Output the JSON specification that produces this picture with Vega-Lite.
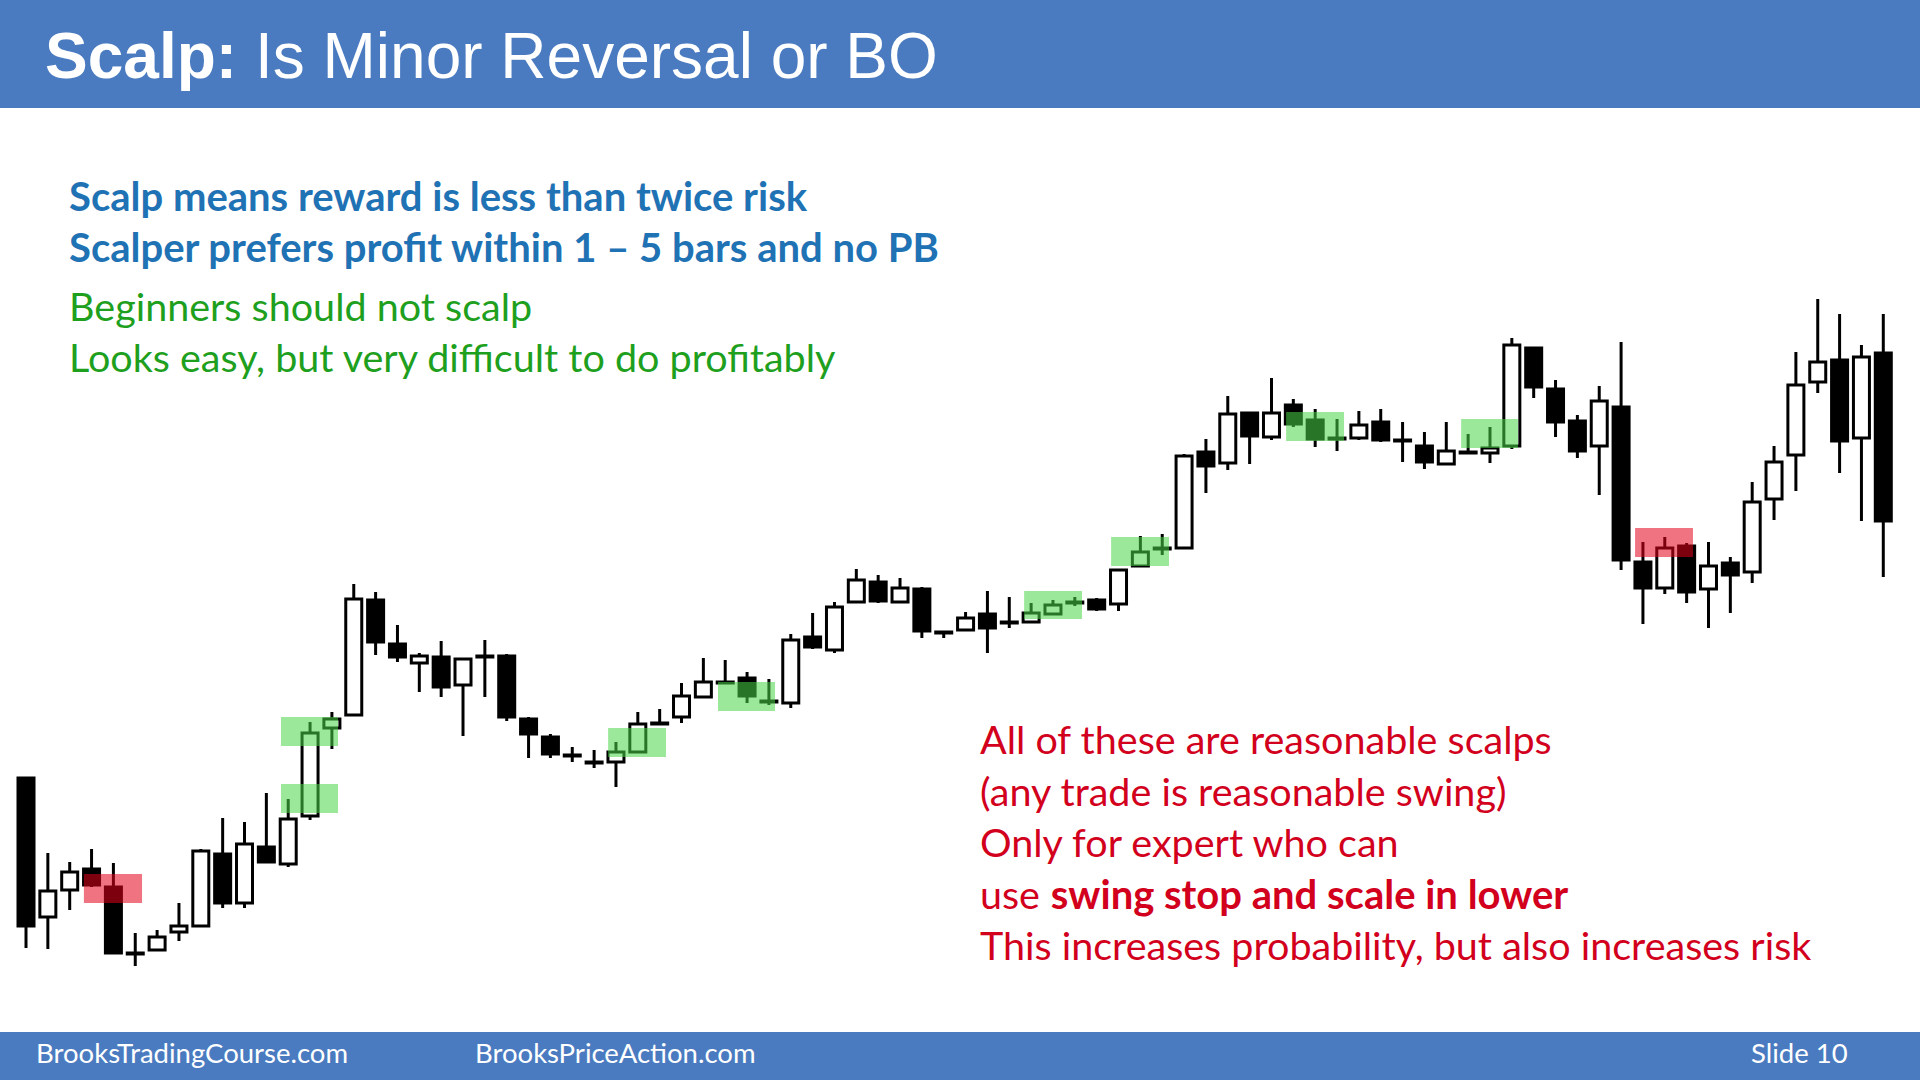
{
  "$schema": "https://vega.github.io/schema/vega-lite/v6.json",
  "width": 1920,
  "height": 1080,
  "autosize": {"type": "fit", "contains": "padding"},
  "padding": 0,
  "background": "white",
  "config": {"view": {"stroke": null}, "scale": {"continuousPadding": 0}},
  "datasets": {
    "bars": [
      {"i":0,"o":222,"h":222,"l":52,"c":74},
      {"i":1,"o":83,"h":147,"l":51,"c":109},
      {"i":2,"o":110,"h":138,"l":90,"c":128},
      {"i":3,"o":131,"h":151,"l":113,"c":115},
      {"i":4,"o":113,"h":137,"l":47,"c":47},
      {"i":5,"o":47,"h":67,"l":34,"c":46},
      {"i":6,"o":50,"h":70,"l":50,"c":63},
      {"i":7,"o":68,"h":97,"l":59,"c":74},
      {"i":8,"o":74,"h":151,"l":74,"c":149},
      {"i":9,"o":146,"h":182,"l":92,"c":97},
      {"i":10,"o":97,"h":178,"l":92,"c":156},
      {"i":11,"o":153,"h":207,"l":138,"c":138},
      {"i":12,"o":136,"h":201,"l":133,"c":181},
      {"i":13,"o":184,"h":278,"l":180,"c":267},
      {"i":14,"o":272,"h":288,"l":251,"c":281},
      {"i":15,"o":285,"h":416,"l":285,"c":401},
      {"i":16,"o":400,"h":408,"l":345,"c":358},
      {"i":17,"o":356,"h":375,"l":338,"c":343},
      {"i":18,"o":337,"h":347,"l":308,"c":344},
      {"i":19,"o":343,"h":359,"l":303,"c":313},
      {"i":20,"o":315,"h":342,"l":264,"c":341},
      {"i":21,"o":344,"h":360,"l":303,"c":343},
      {"i":22,"o":344,"h":346,"l":279,"c":283},
      {"i":23,"o":281,"h":283,"l":242,"c":266},
      {"i":24,"o":263,"h":266,"l":242,"c":246},
      {"i":25,"o":245,"h":253,"l":238,"c":244},
      {"i":26,"o":238,"h":250,"l":232,"c":237},
      {"i":27,"o":238,"h":258,"l":213,"c":248},
      {"i":28,"o":248,"h":288,"l":248,"c":276},
      {"i":29,"o":277,"h":291,"l":275,"c":276},
      {"i":30,"o":283,"h":317,"l":277,"c":304},
      {"i":31,"o":303,"h":342,"l":303,"c":318},
      {"i":32,"o":318,"h":340,"l":317,"c":317},
      {"i":33,"o":322,"h":328,"l":297,"c":304},
      {"i":34,"o":299,"h":321,"l":295,"c":298},
      {"i":35,"o":297,"h":366,"l":292,"c":360},
      {"i":36,"o":363,"h":387,"l":351,"c":353},
      {"i":37,"o":350,"h":398,"l":347,"c":393},
      {"i":38,"o":398,"h":431,"l":398,"c":420},
      {"i":39,"o":418,"h":425,"l":397,"c":399},
      {"i":40,"o":398,"h":422,"l":398,"c":412},
      {"i":41,"o":411,"h":413,"l":362,"c":369},
      {"i":42,"o":368,"h":368,"l":362,"c":367},
      {"i":43,"o":370,"h":388,"l":369,"c":382},
      {"i":44,"o":386,"h":409,"l":347,"c":372},
      {"i":45,"o":378,"h":403,"l":372,"c":377},
      {"i":46,"o":378,"h":397,"l":378,"c":387},
      {"i":47,"o":386,"h":400,"l":386,"c":395},
      {"i":48,"o":398,"h":403,"l":394,"c":397},
      {"i":49,"o":400,"h":402,"l":389,"c":391},
      {"i":50,"o":396,"h":430,"l":389,"c":430},
      {"i":51,"o":434,"h":464,"l":434,"c":448},
      {"i":52,"o":452,"h":466,"l":445,"c":451},
      {"i":53,"o":452,"h":546,"l":452,"c":544},
      {"i":54,"o":548,"h":561,"l":507,"c":534},
      {"i":55,"o":537,"h":604,"l":530,"c":586},
      {"i":56,"o":587,"h":587,"l":536,"c":564},
      {"i":57,"o":563,"h":622,"l":560,"c":587},
      {"i":58,"o":595,"h":601,"l":573,"c":576},
      {"i":59,"o":580,"h":591,"l":553,"c":561},
      {"i":60,"o":562,"h":581,"l":549,"c":561},
      {"i":61,"o":562,"h":589,"l":560,"c":575},
      {"i":62,"o":578,"h":591,"l":558,"c":560},
      {"i":63,"o":560,"h":578,"l":538,"c":559},
      {"i":64,"o":554,"h":568,"l":531,"c":538},
      {"i":65,"o":536,"h":578,"l":536,"c":549},
      {"i":66,"o":548,"h":566,"l":547,"c":547},
      {"i":67,"o":547,"h":573,"l":537,"c":552},
      {"i":68,"o":554,"h":662,"l":551,"c":655},
      {"i":69,"o":652,"h":652,"l":602,"c":613},
      {"i":70,"o":611,"h":620,"l":563,"c":578},
      {"i":71,"o":579,"h":585,"l":542,"c":549},
      {"i":72,"o":554,"h":614,"l":505,"c":599},
      {"i":73,"o":593,"h":658,"l":430,"c":440},
      {"i":74,"o":438,"h":458,"l":376,"c":412},
      {"i":75,"o":412,"h":463,"l":406,"c":452},
      {"i":76,"o":454,"h":457,"l":397,"c":408},
      {"i":77,"o":411,"h":458,"l":372,"c":434},
      {"i":78,"o":437,"h":443,"l":387,"c":425},
      {"i":79,"o":428,"h":518,"l":417,"c":498},
      {"i":80,"o":501,"h":554,"l":480,"c":538},
      {"i":81,"o":545,"h":648,"l":509,"c":615},
      {"i":82,"o":618,"h":701,"l":607,"c":638},
      {"i":83,"o":640,"h":686,"l":527,"c":559},
      {"i":84,"o":562,"h":655,"l":479,"c":643},
      {"i":85,"o":647,"h":686,"l":423,"c":479}
    ],
    "zones": [
      {"kind":"red","x1":2.65,"x2":5.31,"y1":126,"y2":97},
      {"kind":"green","x1":11.67,"x2":14.28,"y1":283,"y2":254},
      {"kind":"green","x1":11.67,"x2":14.28,"y1":216,"y2":187},
      {"kind":"green","x1":26.64,"x2":29.29,"y1":272,"y2":243},
      {"kind":"green","x1":31.67,"x2":34.28,"y1":318,"y2":289},
      {"kind":"green","x1":45.68,"x2":48.33,"y1":409,"y2":381},
      {"kind":"green","x1":49.66,"x2":52.31,"y1":463,"y2":434},
      {"kind":"green","x1":57.67,"x2":60.32,"y1":588,"y2":559},
      {"kind":"green","x1":65.68,"x2":68.28,"y1":581,"y2":552},
      {"kind":"red","x1":73.64,"x2":76.29,"y1":472,"y2":443}
    ]
  },
  "layer": [
    {
      "data": {"values": [{"band": "header"}]},
      "mark": {"type": "rect", "color": "#4a7bc0"},
      "encoding": {
        "x": {"datum": -1.19, "type": "quantitative", "scale": {"domain": [-1.19, 86.68], "nice": false, "zero": false, "padding": 0}, "axis": null},
        "x2": {"datum": 86.68},
        "y": {"datum": 1000, "type": "quantitative", "scale": {"domain": [-80, 1000], "nice": false, "zero": false, "padding": 0}, "axis": null},
        "y2": {"datum": 892}
      }
    },
    {
      "data": {"values": [{"band": "footer"}]},
      "mark": {"type": "rect", "color": "#4a7bc0"},
      "encoding": {
        "x": {"datum": -1.19, "type": "quantitative", "scale": {"domain": [-1.19, 86.68], "nice": false, "zero": false, "padding": 0}, "axis": null},
        "x2": {"datum": 86.68},
        "y": {"datum": -32, "type": "quantitative", "scale": {"domain": [-80, 1000], "nice": false, "zero": false, "padding": 0}, "axis": null},
        "y2": {"datum": -80}
      }
    },
    {
      "data": {"name": "bars"},
      "mark": {"type": "rule", "color": "black", "strokeWidth": 3},
      "encoding": {
        "x": {"field": "i", "type": "quantitative", "scale": {"domain": [-1.19, 86.68], "nice": false, "zero": false, "padding": 0}, "axis": null},
        "y": {"field": "l", "type": "quantitative", "scale": {"domain": [-80, 1000], "nice": false, "zero": false, "padding": 0}, "axis": null},
        "y2": {"field": "h"}
      }
    },
    {
      "data": {"name": "bars"},
      "mark": {"type": "bar", "size": 16, "stroke": "black", "strokeWidth": 3},
      "encoding": {
        "x": {"field": "i", "type": "quantitative", "scale": {"domain": [-1.19, 86.68], "nice": false, "zero": false, "padding": 0}, "axis": null},
        "y": {"field": "o", "type": "quantitative", "scale": {"domain": [-80, 1000], "nice": false, "zero": false, "padding": 0}, "axis": null},
        "y2": {"field": "c"},
        "fill": {"condition": {"test": "datum.c > datum.o", "value": "white"}, "value": "black"}
      }
    },
    {
      "data": {"name": "zones"},
      "mark": {"type": "rect", "opacity": 0.55},
      "encoding": {
        "x": {"field": "x1", "type": "quantitative", "scale": {"domain": [-1.19, 86.68], "nice": false, "zero": false, "padding": 0}, "axis": null},
        "x2": {"field": "x2"},
        "y": {"field": "y1", "type": "quantitative", "scale": {"domain": [-80, 1000], "nice": false, "zero": false, "padding": 0}, "axis": null},
        "y2": {"field": "y2"},
        "color": {"field": "kind", "type": "nominal", "scale": {"domain": ["red", "green"], "range": ["#e3001a", "#48d548"]}, "legend": null}
      }
    },
    {
      "data": {"values": [{"t": "Scalp:"}]},
      "mark": {"type": "text", "font": "Liberation Sans", "fontSize": 64, "fontWeight": "bold", "color": "white", "align": "left", "baseline": "alphabetic"},
      "encoding": {"text": {"field": "t"}, "x": {"datum": 0.87, "type": "quantitative"}, "y": {"datum": 922, "type": "quantitative"}}
    },
    {
      "data": {"values": [{"t": "Is Minor Reversal or BO"}]},
      "mark": {"type": "text", "font": "Liberation Sans", "fontSize": 64, "color": "white", "align": "left", "baseline": "alphabetic"},
      "encoding": {"text": {"field": "t"}, "x": {"datum": 10.48, "type": "quantitative"}, "y": {"datum": 922, "type": "quantitative"}}
    },
    {
      "data": {"values": [{"t": "Scalp means reward is less than twice risk"}]},
      "mark": {"type": "text", "font": "Lato", "fontSize": 40, "fontWeight": "bold", "color": "#1f72b4", "align": "left", "baseline": "alphabetic"},
      "encoding": {"text": {"field": "t"}, "x": {"datum": 1.97, "type": "quantitative"}, "y": {"datum": 789, "type": "quantitative"}}
    },
    {
      "data": {"values": [{"t": "Scalper prefers profit within 1 – 5 bars and no PB"}]},
      "mark": {"type": "text", "font": "Lato", "fontSize": 40, "fontWeight": "bold", "color": "#1f72b4", "align": "left", "baseline": "alphabetic"},
      "encoding": {"text": {"field": "t"}, "x": {"datum": 1.97, "type": "quantitative"}, "y": {"datum": 738, "type": "quantitative"}}
    },
    {
      "data": {"values": [{"t": "Beginners should not scalp"}]},
      "mark": {"type": "text", "font": "Lato", "fontSize": 39.5, "color": "#1ea01e", "align": "left", "baseline": "alphabetic"},
      "encoding": {"text": {"field": "t"}, "x": {"datum": 1.97, "type": "quantitative"}, "y": {"datum": 679, "type": "quantitative"}}
    },
    {
      "data": {"values": [{"t": "Looks easy, but very difficult to do profitably"}]},
      "mark": {"type": "text", "font": "Lato", "fontSize": 39.5, "color": "#1ea01e", "align": "left", "baseline": "alphabetic"},
      "encoding": {"text": {"field": "t"}, "x": {"datum": 1.97, "type": "quantitative"}, "y": {"datum": 628, "type": "quantitative"}}
    },
    {
      "data": {"values": [{"t": "All of these are reasonable scalps"}]},
      "mark": {"type": "text", "font": "Lato", "fontSize": 39.5, "color": "#d2001c", "align": "left", "baseline": "alphabetic"},
      "encoding": {"text": {"field": "t"}, "x": {"datum": 43.66, "type": "quantitative"}, "y": {"datum": 246, "type": "quantitative"}}
    },
    {
      "data": {"values": [{"t": "(any trade is reasonable swing)"}]},
      "mark": {"type": "text", "font": "Lato", "fontSize": 39.5, "color": "#d2001c", "align": "left", "baseline": "alphabetic"},
      "encoding": {"text": {"field": "t"}, "x": {"datum": 43.66, "type": "quantitative"}, "y": {"datum": 194, "type": "quantitative"}}
    },
    {
      "data": {"values": [{"t": "Only for expert who can"}]},
      "mark": {"type": "text", "font": "Lato", "fontSize": 39.5, "color": "#d2001c", "align": "left", "baseline": "alphabetic"},
      "encoding": {"text": {"field": "t"}, "x": {"datum": 43.66, "type": "quantitative"}, "y": {"datum": 143, "type": "quantitative"}}
    },
    {
      "data": {"values": [{"t": "use"}]},
      "mark": {"type": "text", "font": "Lato", "fontSize": 39.5, "color": "#d2001c", "align": "left", "baseline": "alphabetic"},
      "encoding": {"text": {"field": "t"}, "x": {"datum": 43.66, "type": "quantitative"}, "y": {"datum": 91, "type": "quantitative"}}
    },
    {
      "data": {"values": [{"t": "swing stop and scale in lower"}]},
      "mark": {"type": "text", "font": "Lato", "fontSize": 40, "fontWeight": "bold", "color": "#d2001c", "align": "left", "baseline": "alphabetic"},
      "encoding": {"text": {"field": "t"}, "x": {"datum": 46.9, "type": "quantitative"}, "y": {"datum": 91, "type": "quantitative"}}
    },
    {
      "data": {"values": [{"t": "This increases probability, but also increases risk"}]},
      "mark": {"type": "text", "font": "Lato", "fontSize": 39.5, "color": "#d2001c", "align": "left", "baseline": "alphabetic"},
      "encoding": {"text": {"field": "t"}, "x": {"datum": 43.66, "type": "quantitative"}, "y": {"datum": 40, "type": "quantitative"}}
    },
    {
      "data": {"values": [{"t": "BrooksTradingCourse.com"}]},
      "mark": {"type": "text", "font": "Lato", "fontSize": 27.5, "color": "white", "align": "left", "baseline": "alphabetic"},
      "encoding": {"text": {"field": "t"}, "x": {"datum": 0.46, "type": "quantitative"}, "y": {"datum": -63, "type": "quantitative"}}
    },
    {
      "data": {"values": [{"t": "BrooksPriceAction.com"}]},
      "mark": {"type": "text", "font": "Lato", "fontSize": 27.5, "color": "white", "align": "left", "baseline": "alphabetic"},
      "encoding": {"text": {"field": "t"}, "x": {"datum": 20.55, "type": "quantitative"}, "y": {"datum": -63, "type": "quantitative"}}
    },
    {
      "data": {"values": [{"t": "Slide  10"}]},
      "mark": {"type": "text", "font": "Lato", "fontSize": 27.5, "color": "white", "align": "left", "baseline": "alphabetic"},
      "encoding": {"text": {"field": "t"}, "x": {"datum": 78.95, "type": "quantitative"}, "y": {"datum": -63, "type": "quantitative"}}
    }
  ]
}
